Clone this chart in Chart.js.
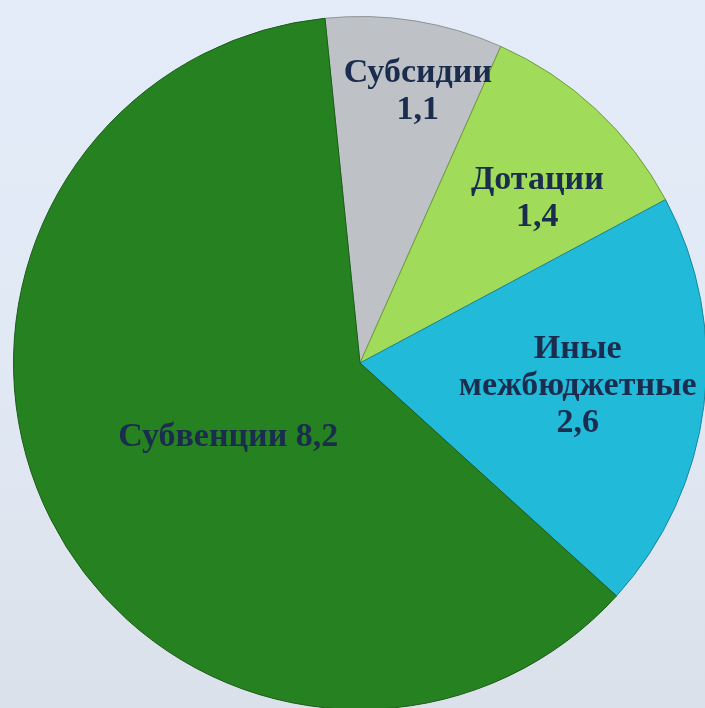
<!DOCTYPE html>
<html><head><meta charset="utf-8">
<script src="https://cdn.jsdelivr.net/npm/chart.js@4/dist/chart.umd.min.js"></script>
<style>
html,body{margin:0;padding:0;width:705px;height:708px;overflow:hidden;
background:linear-gradient(to bottom,#e3ecf8 0%,#e1e9f5 50%,#dbe1ea 100%);}
#wrap{position:absolute;left:0;top:0;width:720px;height:726px;}
</style></head><body>
<div id="wrap"><canvas id="c"></canvas></div>
<script>
const categories = ["Субсидии","Дотации","Иные межбюджетные","Субвенции"];
const values = [1.1, 1.4, 2.6, 8.2];
const labelLines = [["Субсидии","1,1"],["Дотации","1,4"],["Иные","межбюджетные","2,6"],["Субвенции 8,2"]];
const colors = ["#bec2c6","#a0db59","#22bad9","#268221"];
const borders = ["#8e9296","#6f9a3a","#1786a0","#1a5c17"];
const labelRadius = [0.81, 0.703, 0.631, 0.433];
const labelAngleFrac = [0.594, 0.60, 0.476, 0.492];

const labelPlugin = {
  id:'sliceLabels',
  afterDatasetsDraw(chart){
    const ctx = chart.ctx;
    const meta = chart.getDatasetMeta(0);
    ctx.save();
    ctx.fillStyle = '#1b2d4e';
    ctx.font = 'bold 34px "Liberation Serif", "DejaVu Serif", serif';
    ctx.textAlign = 'center';
    ctx.textBaseline = 'middle';
    const lh = 37;
    meta.data.forEach((arc,i)=>{
      const p = arc.getProps(['x','y','startAngle','endAngle','outerRadius'],true);
      const a = p.startAngle + (p.endAngle-p.startAngle)*labelAngleFrac[i];
      const r = p.outerRadius*labelRadius[i];
      const cx = p.x + Math.cos(a)*r;
      const cy = p.y + Math.sin(a)*r + 3;
      const lines = labelLines[i];
      const y0 = cy - (lines.length-1)*lh/2;
      lines.forEach((t,k)=>ctx.fillText(t,cx,y0+k*lh));
    });
    ctx.restore();
  }
};

new Chart(document.getElementById('c'),{
  type:'pie',
  data:{labels:categories,datasets:[{data:values,backgroundColor:colors,borderColor:borders,borderWidth:1}]},
  options:{
    responsive:true, maintainAspectRatio:false, animation:false,
    rotation:-5.8,
    layout:{padding:{left:13,right:13,top:16,bottom:16}},
    plugins:{legend:{display:false},tooltip:{enabled:false}}
  },
  plugins:[labelPlugin]
});
</script>
</body></html>
